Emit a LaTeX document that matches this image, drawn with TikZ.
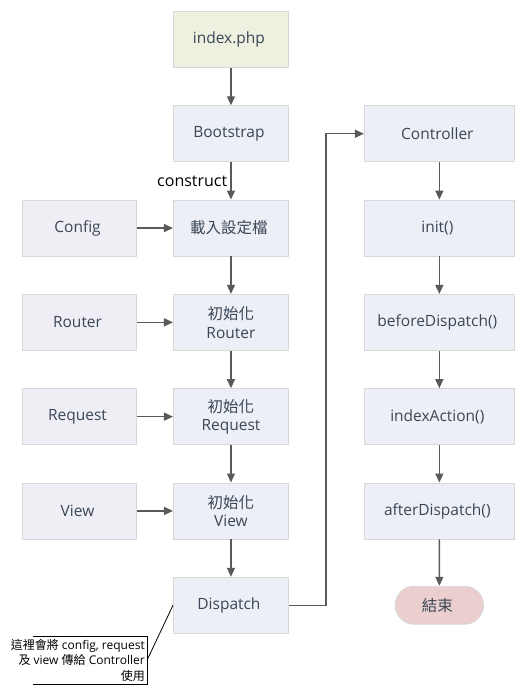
\documentclass[tikz,border=0pt]{standalone}
\usepackage{fontspec}
\setmainfont{Open Sans}
\newfontfamily\cjk{Noto Sans CJK TC}
\usetikzlibrary{matrix,positioning,arrows.meta,shapes.misc}

\definecolor{boxline}{HTML}{D8D8D8}
\definecolor{boxblue}{HTML}{ECEFF5}
\definecolor{boxlav}{HTML}{EFEEF4}
\definecolor{boxgreen}{HTML}{EEF1E0}
\definecolor{endpink}{HTML}{EBCFCF}
\definecolor{boxtext}{HTML}{3B4757}
\definecolor{arrowgrey}{HTML}{5A5A5A}

\begin{document}
\begin{tikzpicture}[x=1pt,y=1pt,
  >={Triangle[length=9pt,width=8pt]},
  flow/.style={->, line width=1.4pt, draw=arrowgrey},
  startbox/.style={fill=boxgreen},
  twoline/.style={text width=95pt},
  endbox/.style={rounded rectangle, fill=endpink, minimum width=95pt, minimum height=38pt},
  notebox/.style={draw=none, minimum width=114pt, minimum height=48pt, inner sep=0pt},
  noteline/.style={draw=black, line width=0.8pt},
  notetext/.style={align=right, inner sep=0pt, font=\fontsize{12}{15.5}\selectfont},
  cons/.style={inner sep=3pt, font=\fontsize{16}{18}\selectfont}]

\matrix(m)[matrix of nodes, column sep=36pt, row sep=37.4pt,
	nodes={draw=boxline, line width=0.9pt, fill=boxblue, anchor=center,
	       minimum width=115pt, minimum height=56pt, text=boxtext,
	       align=center, font=\fontsize{15.5}{18.5}\selectfont},
	column 1/.style={nodes={fill=boxlav, minimum width=114pt}},
	column 3/.style={nodes={minimum width=150pt}}]
{%
 & |[startbox]| index.php &[39pt] \\
 & Bootstrap & Controller \\
Config & {\cjk 載入設定檔} & init() \\
Router & |[twoline]| {\cjk 初始化}\par Router & beforeDispatch() \\
Request & |[twoline]| {\cjk 初始化}\par Request & indexAction() \\
View & |[twoline]| {\cjk 初始化}\par View & afterDispatch() \\
 & Dispatch & |[endbox]| {\cjk 結束} \\
};

\path[use as bounding box] ([xshift=-173pt,yshift=11pt]m-1-2.north west) rectangle ++(525pt,-695pt);

%startup chain
\draw[flow] (m-1-2) -- (m-2-2);
\draw[flow] (m-2-2) -- node[left, cons]{construct} (m-3-2);
\draw[flow] (m-3-2) -- (m-4-2);
\draw[flow] (m-4-2) -- (m-5-2);
\draw[flow] (m-5-2) -- (m-6-2);
\draw[flow] (m-6-2) -- (m-7-2);

%inputs from the left
\draw[flow] (m-3-1) -- (m-3-2);
\draw[flow] (m-4-1) -- (m-4-2);
\draw[flow] (m-5-1) -- (m-5-2);
\draw[flow] (m-6-1) -- (m-6-2);

%dispatch to controller
\draw[flow] (m-7-2.east) -- ++(37pt,0) |- (m-2-3.west);
\draw[flow] (m-2-3) -- (m-3-3);
\draw[flow] (m-3-3) -- (m-4-3);
\draw[flow] (m-4-3) -- (m-5-3);
\draw[flow] (m-5-3) -- (m-6-3);
\draw[flow] (m-6-3) -- (m-7-3);

%note
\node[notebox, anchor=east] (note) at ([xshift=-26pt,yshift=-55pt]m-7-2.west) {};
\draw[noteline] (note.north west) -- (note.north east) -- (note.south east) -- (note.south west);
\draw[noteline] (note.east) -- (m-7-2.west);
\node[notetext, anchor=east] (notetxt) at ([xshift=-2pt]note.east)
  {{\cjk 這裡會將} config, request\\{\cjk 及} view {\cjk 傳給} Controller\\{\cjk 使用}};
\end{tikzpicture}
\end{document}
